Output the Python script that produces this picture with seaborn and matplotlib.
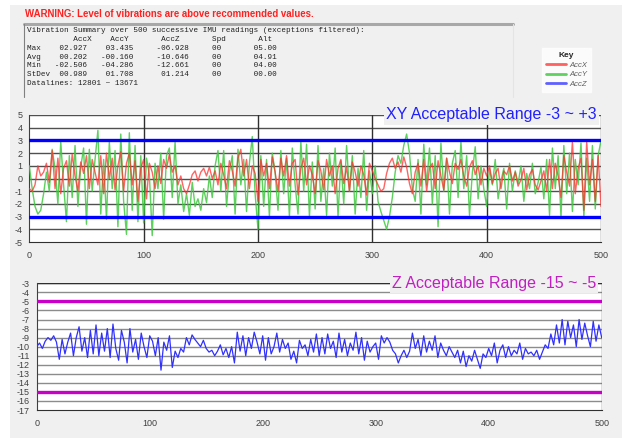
import numpy as np
import pandas as pd
import matplotlib
matplotlib.use("Agg")
import matplotlib.pyplot as plt
from matplotlib.lines import Line2D
from matplotlib.patches import Rectangle
import seaborn as sns

# summary table values
stat_labels = ["Max", "Avg", "Min", "StDev"]
stat_accx = ["02.927", "00.202", "-02.506", "00.989"]
stat_accy = ["03.435", "-00.160", "-04.286", "01.708"]
stat_accz = ["-06.928", "-10.646", "-12.661", "01.214"]
stat_spd = ["00", "00", "00", "00"]
stat_alt = ["05.00", "04.91", "04.00", "00.00"]

acc_y = [
    1.0, -0.8, -2.2, -2.8, -2.5, -1.2, 0.5, -1.0, 2.3, 0.8, -2.0, 2.9, -0.5, -3.4, 1.8, -1.5, 2.6, -2.2, 0.9, 2.4,
    -3.6, 2.3, -1.0, 1.5, 3.8, -2.8, 1.5, -3.2, 2.9, -0.8, 2.2, -3.8, 3.5, -1.8, -4.4, 3.6, -2.5, 2.6, -3.4, 1.8,
    -3.5, 1.6, 0.3, -4.5, 1.2, -0.8, 2.0, -3.2, 1.8, 2.4, -1.5, 2.9, -2.0, -0.5, -2.6, -1.2, -2.9, -0.3, -2.2, -1.6,
    -2.5, -0.8, -1.9, 0.2, -1.5, 1.0, 2.2, -1.0, 2.2, -2.2, 0.5, 1.8, -2.8, 2.3, -0.5, 1.5, -2.6, 1.2, 3.3, -1.2,
    -4.0, 1.8, -2.2, 1.5, -3.0, 2.0, 0.5, -2.5, 2.2, -1.2, 1.6, -3.0, 2.4, -0.5, -2.8, 2.9, -1.0, 2.7, -3.0, 1.3,
    -2.4, 2.6, -1.8, 0.8, -2.9, 2.0, -0.6, 2.4, -3.0, 1.4, -2.0, 2.6, -1.0, 1.8, -2.8, 0.8, -1.5, 2.2, -2.5, 0.6,
    -1.2, 1.0, -1.8, -2.6, -3.3, -4.0, -3.0, -1.5, 0.5, 1.8, 1.2, 2.6, 3.5, 2.0, -0.8, -1.8, 1.5, -2.8, 2.7, -0.5,
    2.4, -2.0, 1.8, -3.8, 2.8, -1.0, 1.6, -2.8, 1.2, 2.2, -1.5, 2.9, -0.8, 1.8, -2.9, 0.5, 2.5, -1.6, 1.0, -0.8,
    -2.2, 0.8, -0.5, 1.5, -1.6, -0.2, 0.8, -2.4, 1.2, -1.0, 0.6, -0.4, 1.0, -1.8, 0.4, -0.8, 1.2, -1.2, -0.3, 0.9,
    -1.6, 1.5, -2.9, 2.4, -0.8, 1.8, -3.0, 2.6, -1.2, 2.0, -2.6, 1.5, -0.5, 2.8, -3.0, 1.6, -1.8, 2.6, -2.4, 1.8,
    3.0,
]
acc_x = [
    -0.8, -1.0, -0.5, 1.0, 0.2, 0.5, 1.2, -0.3, 2.2, -0.8, 1.6, -1.2, 0.8, 1.4, -0.6, 1.9, 0.2, -1.0, 1.3, 0.4,
    1.8, -0.8, 1.5, 0.5, -0.5, 1.8, -1.2, 2.0, 0.0, 1.6, -0.9, 1.0, 2.1, -1.0, 1.2, 2.0, -0.5, 1.4, -1.8, 0.8,
    1.5, -1.6, 1.2, 0.5, -0.8, 1.0, -0.4, 1.5, 0.8, 1.9, 0.5, 1.0, -0.5, 0.2, -0.8, -1.2, -0.5, 0.3, 0.6, -0.2,
    0.5, 0.8, 0.2, 0.9, 0.0, 0.6, -0.5, 1.2, 0.3, -0.8, 1.4, 0.6, -0.6, 1.6, 2.3, 0.2, 1.5, -0.8, 1.0, 0.4,
    -1.8, 1.5, 0.2, 1.2, -0.8, 1.7, 0.5, -1.0, 1.6, 0.2, 1.8, -0.6, 1.2, 1.5, -1.3, 0.8, 1.6, -0.5, 1.0, 0.3,
    -1.2, 1.4, 0.6, -0.9, 1.5, 0.2, 1.0, -1.2, 0.8, 1.5, -0.4, 0.9, -1.0, 1.3, 0.5, -0.6, 1.0, 0.3, -1.3, 1.2,
    0.6, 0.0, -0.5, -1.0, -0.8, 0.4, 1.2, 1.6, 0.8, 1.3, 0.5, 1.7, 0.9, -0.4, -1.2, 0.5, 1.2, -0.6, 1.5, -1.0,
    0.8, 1.2, -0.8, 1.4, 0.2, -0.9, 1.6, 0.5, -0.4, 1.2, 0.7, 1.5, 0.2, -0.6, 0.9, 1.4, 0.3, 1.0, -0.5, 0.8,
    0.2, 1.0, -0.4, 0.4, 0.8, -0.8, 0.6, 0.3, 1.0, -0.2, 0.5, -0.6, -0.1, 0.8, -0.9, 0.3, 0.7, -0.5, -0.9, -0.2,
    0.6, -1.0, 1.5, -0.8, 1.2, 0.2, -1.5, 1.8, 0.5, -0.6, 2.9, -1.2, 0.8, 1.6, -2.5, 2.9, -0.5, 1.5, -1.8, 1.8,
    -2.2,
]
acc_z = [
    -10.0, -9.6, -10.2, -9.4, -9.0, -9.3, -8.8, -9.5, -11.4, -9.2, -10.8, -9.5, -8.5, -11.0, -9.0, -7.8, -10.5, -9.0, -11.2, -8.2,
    -10.8, -7.6, -11.0, -8.5, -10.5, -8.0, -11.2, -7.5, -10.2, -11.5, -8.2, -9.5, -11.8, -8.0, -10.6, -9.2, -11.4, -8.5, -10.0, -11.2,
    -8.8, -9.4, -11.0, -9.0, -12.6, -9.5, -10.4, -8.8, -12.3, -10.5, -11.2, -10.2, -10.6, -9.0, -9.8, -8.7, -9.2, -9.6, -10.0, -9.3,
    -10.2, -10.6, -10.4, -11.0, -10.5, -9.8, -10.9, -10.2, -11.2, -10.0, -11.8, -8.4, -10.5, -8.8, -11.0, -9.0, -10.2, -8.4, -9.5, -10.8,
    -8.8, -11.5, -9.0, -10.8, -10.0, -8.5, -10.6, -9.2, -10.2, -9.6, -11.4, -10.5, -11.8, -9.3, -10.2, -9.8, -11.0, -9.2, -10.6, -8.6,
    -11.0, -9.0, -10.8, -8.6, -10.2, -9.4, -11.2, -8.5, -10.6, -9.2, -11.0, -9.6, -10.4, -8.4, -10.8, -9.0, -11.5, -9.4, -10.6, -10.0,
    -9.6, -11.4, -8.8, -9.6, -9.0, -9.5, -10.4, -10.8, -11.8, -11.0, -10.4, -11.2, -10.5, -8.5, -10.2, -9.2, -11.0, -8.8, -10.6, -9.4,
    -10.4, -8.8, -11.2, -9.6, -10.4, -11.0, -10.0, -10.6, -11.2, -10.4, -11.8, -10.5, -12.2, -11.0, -11.6, -10.4, -11.4, -12.4, -10.8, -11.2,
    -10.2, -11.0, -9.6, -11.8, -10.4, -9.8, -11.2, -10.0, -11.0, -10.4, -10.8, -9.6, -11.4, -10.2, -10.8, -10.6, -11.0, -10.4, -11.4, -10.6,
    -9.8, -10.2, -8.6, -9.8, -7.6, -9.6, -7.0, -9.8, -7.2, -9.0, -7.6, -10.0, -7.0, -9.2, -7.4, -8.8, -10.0, -7.2, -9.4, -7.6,
    -9.0,
]
xy_limits = [-3, 3]
z_limits = [-5, -15]

BG = "#f0f0f0"
C_X = "#ff3030"
C_Y = "#40c840"
C_Z = "#3030ff"


def style_axes(ax, ylo, yhi, grid_color, vgrid):
    ax.set_facecolor("white")
    ax.set_xlim(0, 500)
    ax.set_ylim(ylo, yhi)
    ax.set_yticks(range(ylo, yhi + 1))
    ax.set_xticks(range(0, 501, 100))
    ax.set_xticks(range(0, 501, 10), minor=True)
    for y in range(ylo + 1, yhi + 1):
        ax.axhline(y, color=grid_color, lw=1.0, zorder=1)
    if vgrid:
        for x in range(100, 500, 100):
            ax.axvline(x, color="#303030", lw=1.0, zorder=1)
    for side in ["top", "right"]:
        ax.spines[side].set_visible(False)
    ax.spines["left"].set_color("#404040")
    ax.spines["bottom"].set_color("#303030")
    ax.axvline(500, color="#606060", lw=1.0, zorder=1)
    ax.tick_params(axis="both", which="major", labelsize=6.5, labelcolor="#404040",
                   color="#404040", length=3, width=0.8, pad=2)
    ax.tick_params(axis="x", which="major", direction="inout", length=5, pad=4)
    ax.tick_params(axis="x", which="minor", direction="in", length=3, width=0.8, color="#404040")


def build_summary():
    lines = ["Vibration Summary over 500 successive IMU readings (exceptions filtered):",
             "          AccX    AccY       AccZ       Spd       Alt"]
    for i, lab in enumerate(stat_labels):
        lines.append(f"{lab:<6}{stat_accx[i]:>7}{stat_accy[i]:>10}{stat_accz[i]:>12}"
                     f"{stat_spd[i]:>7}{stat_alt[i]:>12}")
    lines.append("Datalines: 12801 ~ 13671")
    return lines


def main():
    sns.set_style("white")
    plt.rcParams["font.family"] = ["Liberation Sans", "DejaVu Sans"]
    plt.rcParams["axes.unicode_minus"] = False

    fig = plt.figure(figsize=(6.27, 4.38), dpi=100)
    fig.patch.set_facecolor("white")
    fig.patches.append(Rectangle((10 / 627, 0), 612 / 627, 1 - 5 / 438,
                                 transform=fig.transFigure, fc=BG, ec="none", zorder=-10))

    # header
    fig.text(25 / 627, 1 - 14 / 438, "WARNING: Level of vibrations are above recommended values.",
             color="#ff2020", fontsize=6.9, fontweight="bold", va="center", ha="left")

    # summary box
    fig.add_artist(Line2D([24 / 627, 513 / 627], [1 - 24 / 438] * 2, transform=fig.transFigure,
                          color="#a8a8a8", lw=2.2))
    fig.add_artist(Line2D([24 / 627] * 2, [1 - 24 / 438, 1 - 97 / 438], transform=fig.transFigure,
                          color="#808080", lw=0.8))
    fig.add_artist(Line2D([513 / 627] * 2, [1 - 24 / 438, 1 - 97 / 438], transform=fig.transFigure,
                          color="#e4e4e4", lw=0.8))
    for i, line in enumerate(build_summary()):
        fig.text(27 / 627, 1 - (31 + i * 8.7) / 438, line, family="Liberation Mono",
                 fontsize=5.5, color="#202020", va="center", ha="left")

    # key
    handles = [Line2D([], [], color="#ff6060", lw=2),
               Line2D([], [], color="#60d060", lw=2),
               Line2D([], [], color="#6060ff", lw=2)]
    leg = fig.legend(handles, ["AccX", "AccY", "AccZ"], title="Key",
                     loc="upper left", bbox_to_anchor=(542 / 627, 1 - 48 / 438),
                     fontsize=5.5, title_fontsize=6, frameon=True, fancybox=False,
                     handlelength=2.6, handletextpad=0.4, labelspacing=0.3,
                     borderpad=0.55, borderaxespad=0)
    leg.get_frame().set_facecolor("white")
    leg.get_frame().set_edgecolor("white")
    leg.get_title().set_fontweight("bold")
    for t in leg.get_texts():
        t.set_color("#606060")
        t.set_fontstyle("italic")

    # XY panel
    ax1 = fig.add_axes([29.3 / 627, 1 - 242 / 438, (601 - 29.3) / 627, 127 / 438])
    df_xy = pd.DataFrame({"AccX": acc_x, "AccY": acc_y})
    df_xy["reading"] = np.linspace(0, 500, len(df_xy))
    style_axes(ax1, -5, 5, "#505050", True)
    sns.lineplot(data=df_xy, x="reading", y="AccY", ax=ax1, color=C_Y, lw=1.0, alpha=0.85, zorder=3)
    sns.lineplot(data=df_xy, x="reading", y="AccX", ax=ax1, color=C_X, lw=1.0, alpha=0.75, zorder=4)
    for v in xy_limits:
        ax1.axhline(v, color="#0000ff", lw=2.4, zorder=5)
    ax1.set_xlabel("")
    ax1.set_ylabel("")
    ax1.text(0.993, 1.0, "XY Acceptable Range -3 ~ +3", transform=ax1.transAxes,
             ha="right", va="center", fontsize=11.5, color="#2020ff", zorder=10,
             bbox=dict(fc=BG, ec="none", pad=1.5))

    # Z panel
    ax2 = fig.add_axes([36.7 / 627, 1 - 410 / 438, (601.7 - 36.7) / 627, 126.7 / 438])
    df_z = pd.DataFrame({"AccZ": acc_z})
    df_z["reading"] = np.linspace(0, 500, len(df_z))
    style_axes(ax2, -17, -3, "#8c8c8c", False)
    sns.lineplot(data=df_z, x="reading", y="AccZ", ax=ax2, color=C_Z, lw=0.9, zorder=3)
    for v in z_limits:
        ax2.axhline(v, color="#c800c8", lw=2.4, zorder=5)
    ax2.axhline(-3, color="#303030", lw=1.0, zorder=1)
    ax2.set_xlabel("")
    ax2.set_ylabel("")
    ax2.text(0.99, 1.0, "Z Acceptable Range -15 ~ -5", transform=ax2.transAxes,
             ha="right", va="center", fontsize=11.5, color="#c020c0", zorder=10,
             bbox=dict(fc=BG, ec="none", pad=1.5))

    fig.savefig("out.png", dpi=100, facecolor=fig.get_facecolor())
    plt.close(fig)


if __name__ == "__main__":
    main()
